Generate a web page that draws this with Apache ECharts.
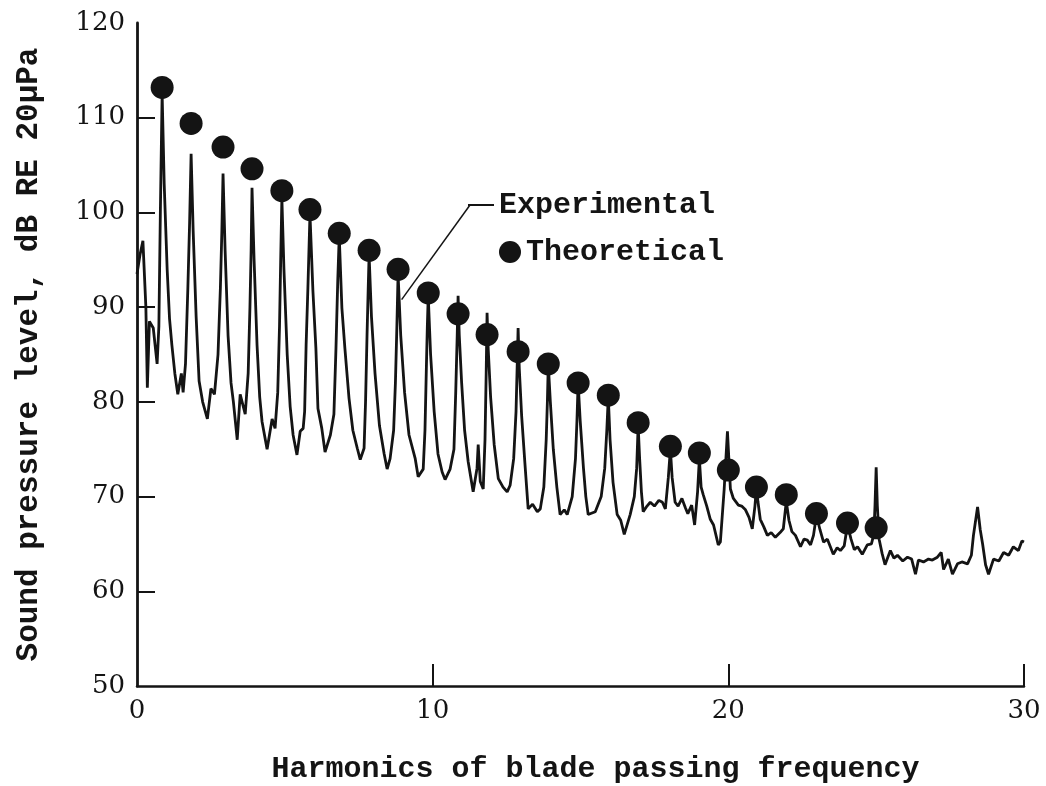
<!DOCTYPE html>
<html>
<head>
<meta charset="utf-8">
<script src="https://cdn.jsdelivr.net/npm/echarts@6/dist/echarts.min.js"></script>
<style>
html,body{margin:0;padding:0;background:#fff;}
#chart{width:1046px;height:786px;}
</style>
</head>
<body>
<div id="chart"></div>
<script>
// Theoretical levels at blade-passing harmonics (positions)
const theoHarm = [0.85,1.83,2.91,3.89,4.9,5.85,6.84,7.85,8.83,9.85,10.86,11.84,12.89,13.91,14.92,15.94,16.95,18.04,19.02,20.0,20.95,21.96,22.98,24.03,25.0];
const theoLevel = [113.2,109.4,106.9,104.6,102.3,100.3,97.8,96.0,94.0,91.5,89.3,87.1,85.3,84.0,82.0,80.7,77.8,75.3,74.6,72.8,71.0,70.2,68.2,67.2,66.7];

// Experimental spectrum trace [harmonic, dB]
const experimental = [
[0.0,93.5],[0.1,95.5],[0.2,97.0],[0.3,90.0],[0.35,81.5],[0.42,88.5],[0.55,87.8],[0.68,84.0],[0.74,88.0],[0.79,100.0],
[0.85,112.5],[0.92,103.0],[1.02,94.0],[1.1,88.8],[1.18,86.0],[1.28,83.0],[1.38,80.8],[1.5,83.0],[1.56,81.0],[1.64,84.0],
[1.72,92.0],[1.78,99.0],[1.83,106.2],[1.9,98.0],[2.0,89.0],[2.1,82.2],[2.22,80.0],[2.38,78.2],[2.5,81.4],[2.62,80.8],
[2.74,85.0],[2.82,92.0],[2.87,98.0],[2.91,104.1],[2.98,96.0],[3.08,87.0],[3.18,82.0],[3.26,80.0],[3.39,76.0],[3.49,80.8],
[3.66,78.7],[3.76,83.0],[3.82,90.0],[3.86,96.0],[3.89,102.6],[3.96,95.0],[4.06,86.0],[4.15,80.5],[4.23,77.9],[4.4,75.0],
[4.57,78.2],[4.67,77.2],[4.76,81.0],[4.82,88.0],[4.86,95.0],[4.9,101.5],[4.97,94.0],[5.08,85.0],[5.18,79.5],[5.28,76.5],
[5.41,74.4],[5.52,76.9],[5.62,77.2],[5.67,79.0],[5.72,86.0],[5.78,92.0],[5.85,99.8],[5.95,91.7],[6.05,85.7],[6.12,79.3],
[6.25,77.2],[6.36,74.7],[6.54,76.5],[6.66,78.7],[6.73,85.7],[6.79,92.8],[6.84,97.5],[6.93,89.9],[7.03,85.7],[7.17,80.4],
[7.3,77.0],[7.45,75.1],[7.55,73.9],[7.68,75.1],[7.73,80.0],[7.78,87.0],[7.82,92.0],[7.85,95.5],[7.93,89.0],[8.05,83.0],
[8.2,77.5],[8.36,74.5],[8.46,72.9],[8.56,74.0],[8.68,77.0],[8.74,82.0],[8.79,88.0],[8.83,93.5],[8.92,87.0],[9.05,81.0],
[9.2,76.5],[9.41,74.0],[9.51,72.1],[9.68,72.9],[9.74,77.0],[9.79,84.0],[9.82,88.0],[9.85,91.2],[9.93,85.0],[10.05,79.0],
[10.18,74.5],[10.32,72.6],[10.42,71.8],[10.59,72.9],[10.72,75.0],[10.78,81.0],[10.83,87.0],[10.86,91.2],[10.9,87.0],[10.98,82.0],
[11.08,77.0],[11.2,73.7],[11.37,70.5],[11.5,73.0],[11.54,75.5],[11.61,71.6],[11.71,70.8],[11.77,76.0],[11.81,83.0],[11.84,89.4],
[11.88,85.5],[11.96,80.5],[12.08,75.5],[12.22,71.9],[12.38,71.0],[12.52,70.5],[12.62,71.2],[12.74,74.0],[12.82,79.0],[12.86,84.0],
[12.89,87.8],[12.93,83.5],[13.01,78.5],[13.12,73.5],[13.23,68.7],[13.38,69.2],[13.54,68.4],[13.64,68.7],[13.76,71.0],[13.84,76.0],
[13.88,80.0],[13.91,84.0],[13.98,80.0],[14.08,75.0],[14.2,71.0],[14.31,68.1],[14.45,68.6],[14.55,68.1],[14.72,70.0],[14.83,74.0],
[14.88,78.0],[14.92,82.0],[14.99,78.0],[15.1,73.0],[15.18,70.0],[15.26,68.1],[15.5,68.4],[15.7,70.0],[15.82,73.0],[15.89,77.0],
[15.94,80.5],[16.0,76.0],[16.1,71.5],[16.24,68.1],[16.36,67.5],[16.48,66.0],[16.68,68.1],[16.82,70.0],[16.9,73.0],[16.95,77.5],
[17.0,74.0],[17.06,70.5],[17.12,68.4],[17.25,69.0],[17.36,69.4],[17.5,69.0],[17.65,69.6],[17.77,69.4],[17.87,68.7],[17.97,72.0],
[18.04,75.0],[18.1,72.0],[18.2,69.4],[18.3,69.0],[18.43,69.8],[18.55,68.8],[18.63,68.2],[18.76,69.1],[18.86,67.0],[18.96,70.5],
[19.02,74.0],[19.08,71.0],[19.15,70.2],[19.27,69.0],[19.39,67.6],[19.5,67.0],[19.66,64.9],[19.73,65.2],[19.86,70.8],[19.97,76.9],
[20.07,70.8],[20.17,69.8],[20.34,69.1],[20.45,69.0],[20.58,68.6],[20.7,67.8],[20.81,66.6],[20.9,69.0],[20.95,71.0],[21.0,69.5],
[21.08,67.6],[21.2,66.8],[21.32,65.9],[21.45,66.2],[21.59,65.7],[21.75,66.2],[21.86,66.6],[21.96,69.5],[22.05,67.5],[22.15,66.3],
[22.27,65.9],[22.44,64.7],[22.56,65.5],[22.67,65.4],[22.78,64.9],[22.88,65.9],[22.98,68.0],[23.1,66.5],[23.22,65.2],[23.35,65.5],
[23.55,63.9],[23.68,64.6],[23.79,64.3],[23.92,64.8],[24.03,67.0],[24.15,65.5],[24.26,64.4],[24.37,64.7],[24.53,63.9],[24.7,64.9],
[24.84,65.0],[24.92,66.0],[24.96,69.0],[25.0,73.1],[25.04,69.0],[25.1,65.5],[25.2,64.0],[25.25,63.8],[25.3,62.8],[25.48,64.3],
[25.6,63.5],[25.72,63.8],[25.9,63.2],[26.06,63.6],[26.2,63.4],[26.33,61.8],[26.43,63.3],[26.6,63.1],[26.77,63.4],[26.9,63.3],
[27.07,63.6],[27.2,64.1],[27.28,62.3],[27.44,63.4],[27.58,61.8],[27.75,62.9],[27.9,63.1],[28.09,62.9],[28.22,63.8],[28.29,65.9],
[28.43,68.9],[28.52,66.5],[28.6,65.0],[28.7,62.8],[28.8,61.8],[28.97,63.4],[29.15,63.2],[29.31,64.1],[29.48,63.8],[29.64,64.7],
[29.81,64.3],[29.93,65.3],[30.0,65.2]
];

const xTickMarks = [10, 20, 30];
const yTickMarks = [60, 70, 80, 90, 100, 110];
const xTitle = 'Harmonics of blade passing frequency';
const yTitle = 'Sound pressure level, dB RE 20\u03bcPa';
const ink = '#141414';
const typeFont = 'Liberation Mono';
const numFont = 'DejaVu Serif';

const chart = echarts.init(document.getElementById('chart'), null, {renderer:'canvas'});
chart.setOption({
  animation: false,
  backgroundColor: '#ffffff',
  grid: {left: 137, right: 22, top: 23, bottom: 100, containLabel: false, outerBoundsMode: 'none'},
  legend: [
    {data: ['Experimental'], left: 468, top: 190, padding: 0, selectedMode: false,
     icon: 'rect', itemWidth: 26, itemHeight: 2,
     textStyle: {fontFamily: typeFont, fontSize: 30, fontWeight: 'bold', color: ink}},
    {data: ['Theoretical'], left: 499, top: 237, padding: 0, selectedMode: false,
     icon: 'circle', itemWidth: 22, itemHeight: 22,
     textStyle: {fontFamily: typeFont, fontSize: 30, fontWeight: 'bold', color: ink}}
  ],
  xAxis: {
    type: 'value', min: 0, max: 30, interval: 10,
    name: xTitle, nameLocation: 'middle', nameGap: 68,
    nameTextStyle: {fontFamily: typeFont, fontSize: 30, fontWeight: 'bold', color: ink, padding: [0,0,0,30]},
    axisLine: {lineStyle: {color: ink, width: 2.5}},
    axisTick: {inside: true, length: 22, customValues: xTickMarks, lineStyle: {color: ink, width: 2}},
    axisLabel: {fontFamily: numFont, fontSize: 26, color: ink, margin: 12},
    splitLine: {show: false}
  },
  yAxis: {
    type: 'value', min: 50, max: 120, interval: 10,
    name: yTitle, nameLocation: 'middle', nameGap: 92, nameRotate: 90,
    nameTextStyle: {fontFamily: typeFont, fontSize: 31, fontWeight: 'bold', color: ink},
    axisLine: {lineStyle: {color: ink, width: 2.8}},
    axisTick: {inside: true, length: 18, customValues: yTickMarks, lineStyle: {color: ink, width: 2}},
    axisLabel: {fontFamily: numFont, fontSize: 26, color: ink, margin: 12},
    splitLine: {show: false}
  },
  series: [
    {
      name: 'Experimental', type: 'line', data: experimental,
      showSymbol: false, symbol: 'none', smooth: false,
      lineStyle: {color: ink, width: 2.8}, itemStyle: {color: ink},
      z: 2,
      markLine: {
        silent: true, symbol: ['none','none'], label: {show: false},
        lineStyle: {color: ink, width: 1.5, type: 'solid'},
        data: [[{coord: [8.95, 90.8]}, {x: 470, y: 205}]]
      }
    },
    {
      name: 'Theoretical', type: 'scatter',
      data: theoHarm.map((h, i) => [h, theoLevel[i]]),
      symbol: 'circle', symbolSize: 23,
      itemStyle: {color: ink, opacity: 1}, z: 3
    }
  ]
});
</script>
</body>
</html>
